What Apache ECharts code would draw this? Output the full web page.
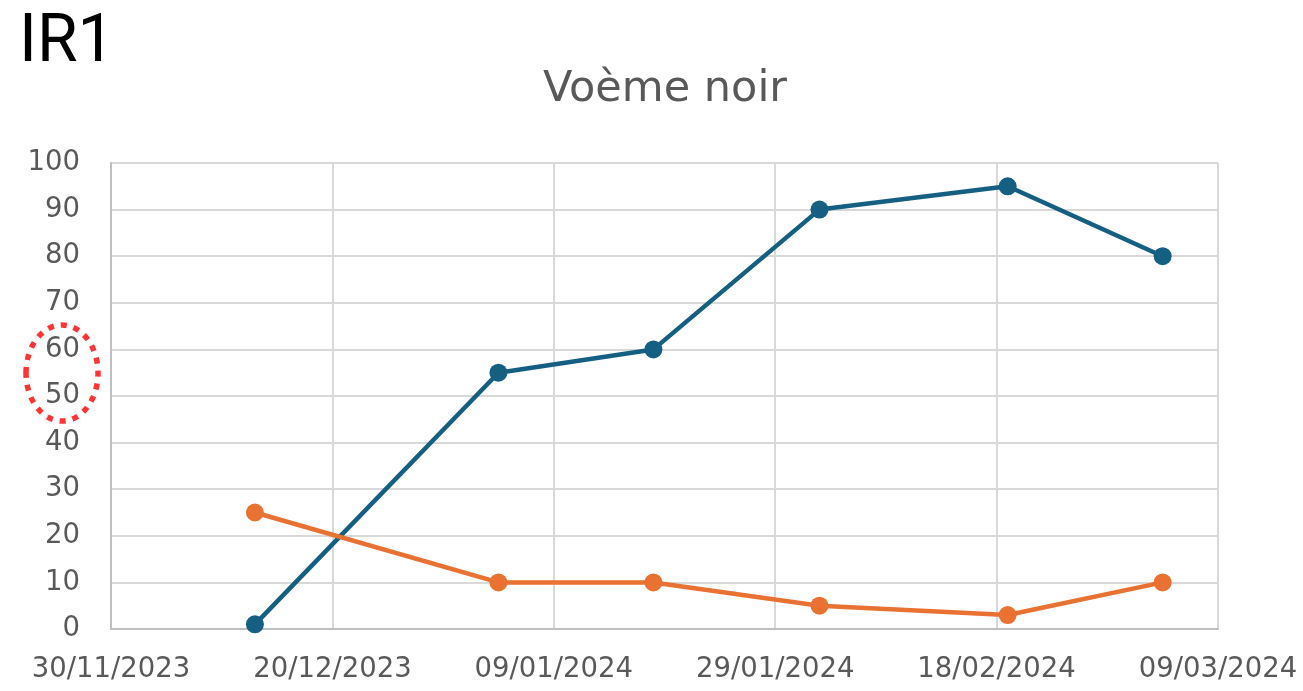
<!DOCTYPE html>
<html><head><meta charset="utf-8">
<script src="https://cdn.jsdelivr.net/npm/echarts@6/dist/echarts.min.js"></script>
<style>html,body{margin:0;padding:0;background:#fff}#c{width:1303px;height:691px}</style>
</head><body><div id="c"></div>
<script>
const startDate = '2023-11-30';
const endDate = '2024-03-09';
const dates = ['2023-12-13','2024-01-04','2024-01-18','2024-02-02','2024-02-19','2024-03-04'];
const seriesBlue = [1, 55, 60, 90, 95, 80];
const seriesOrange = [25, 10, 10, 5, 3, 10];
const yTicks = [0,10,20,30,40,50,60,70,80,90,100];

const DAY = 86400000;
const t0 = Date.parse(startDate + 'T00:00:00Z');
const dayOf = s => Math.round((Date.parse(s + 'T00:00:00Z') - t0) / DAY);
const fmt = d => {
  const dt = new Date(t0 + d * DAY);
  const p = n => String(n).padStart(2, '0');
  return p(dt.getUTCDate()) + '/' + p(dt.getUTCMonth() + 1) + '/' + dt.getUTCFullYear();
};
const font = '"DejaVu Sans", "Liberation Sans", sans-serif';
const chart = echarts.init(document.getElementById('c'));
chart.setOption({
  animation: false,
  grid: { left: 111, right: 85, top: 163, bottom: 62 },
  xAxis: {
    type: 'value', min: 0, max: dayOf(endDate), interval: 20,
    axisLine: { show: true, lineStyle: { color: '#bfbfbf', width: 2 } },
    axisTick: { show: false },
    splitLine: { show: true, lineStyle: { color: '#d9d9d9', width: 2 } },
    axisLabel: { formatter: v => fmt(v), color: '#595959', fontSize: 27.5, fontFamily: font, margin: 27 }
  },
  yAxis: {
    type: 'value', min: yTicks[0], max: yTicks[yTicks.length - 1], interval: 10,
    axisLine: { show: true, lineStyle: { color: '#bfbfbf', width: 2 } },
    axisTick: { show: false },
    splitLine: { show: true, lineStyle: { color: '#d9d9d9', width: 2 } },
    axisLabel: { color: '#595959', fontSize: 27.5, fontFamily: font, margin: 31 }
  },
  series: [
    { type: 'line', data: dates.map((d, i) => [dayOf(d), seriesBlue[i]]), symbol: 'circle', symbolSize: 18,
      lineStyle: { color: '#156082', width: 4.5 }, itemStyle: { color: '#156082' } },
    { type: 'line', data: dates.map((d, i) => [dayOf(d), seriesOrange[i]]), symbol: 'circle', symbolSize: 18,
      lineStyle: { color: '#E97132', width: 4.5 }, itemStyle: { color: '#E97132' } }
  ],
  graphic: [
    { type: 'text', left: 19, top: 11,
      style: { text: 'IR1', fontSize: 66, fontFamily: '"Roboto", sans-serif', fill: '#000' } },
    { type: 'text', x: 665, y: 90,
      style: { text: 'Voème noir', fontSize: 43, fontFamily: font, fill: '#595959', align: 'center', verticalAlign: 'middle' } },
    { type: 'ellipse', shape: { cx: 62, cy: 373, rx: 36, ry: 48 },
      style: { fill: 'none', stroke: '#ff3333', lineWidth: 5.5, lineDash: [6, 7] } }
  ]
});
</script></body></html>
